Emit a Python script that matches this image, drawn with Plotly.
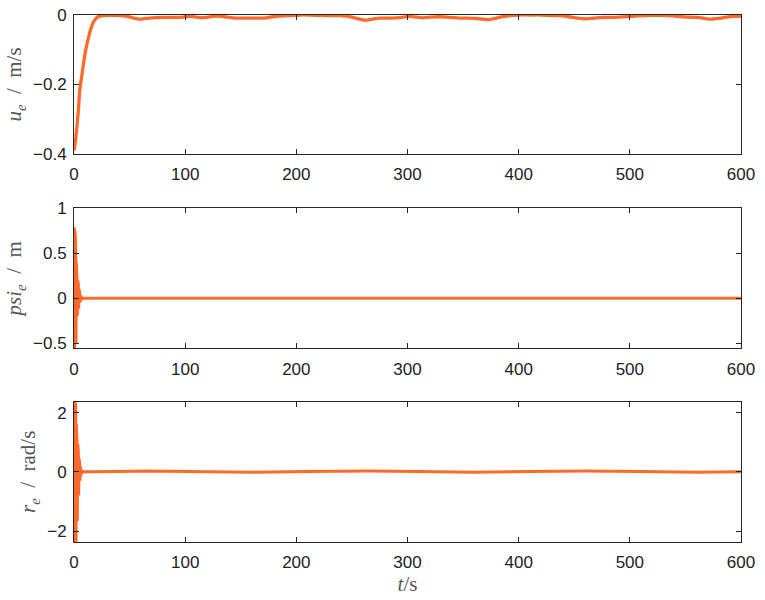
import plotly.graph_objects as go

# ---- data ----
t_u = [0, 1, 2.4, 4, 5.4, 7, 8.3, 10, 11.4, 13, 14.4, 16, 17.4, 19, 20.4, 22, 25, 30, 35, 41,
       48, 54, 59, 64, 70, 80, 90, 98, 104, 110, 115, 121, 128, 135, 143, 155, 165, 173, 179,
       185, 193, 203, 212, 221, 230, 239, 250, 256, 262, 268, 275, 285, 295, 302, 308, 314,
       321, 329, 338, 347, 355, 362, 368, 374, 380, 386, 392, 401, 410, 420, 437, 445, 453,
       461, 468, 476, 485, 491, 505, 518, 530, 540, 551, 560, 566, 572, 579, 587, 594, 600]
u_e = [-0.39, -0.37, -0.33, -0.27, -0.21, -0.175, -0.145, -0.11, -0.087, -0.066, -0.047, -0.032,
       -0.021, -0.013, -0.008, -0.004, -0.002, -0.001, -0.001, -0.001,
       -0.004, -0.009, -0.012, -0.010, -0.008, -0.007, -0.007, -0.006, -0.004, -0.006, -0.008,
       -0.006, -0.003, -0.005, -0.008, -0.009, -0.009, -0.008, -0.005,
       -0.003, -0.002, 0.0, 0.0, -0.001, -0.002, -0.002, -0.006, -0.011, -0.015, -0.012, -0.009,
       -0.009, -0.007, -0.004, -0.006, -0.008, -0.006, -0.005, -0.007, -0.009, -0.009, -0.010,
       -0.012, -0.013, -0.009, -0.005, -0.002, 0.0, 0.0, 0.0, -0.002, -0.005, -0.009,
       -0.011, -0.009, -0.007, -0.007, -0.006, -0.003, -0.001, -0.001, -0.003, -0.006, -0.007,
       -0.009, -0.012, -0.010, -0.006, -0.004, -0.004]

t_psi = [0, 0.3, 0.6, 0.9, 1.2, 1.5, 1.8, 2.1, 2.4, 2.7, 3.0, 3.3, 3.6, 3.9, 4.2, 4.5, 4.8,
         5.1, 5.4, 5.7, 6.0, 6.5, 7, 8, 10, 600]
psi_e = [0, 0.79, -0.57, 0.75, -0.56, 0.6, -0.5, 0.4, -0.4, 0.22, -0.2, 0.2, -0.17, 0.15,
         -0.12, 0.1, -0.08, 0.06, -0.05, 0.04, -0.03, 0.02, -0.01, 0, 0, 0]

t_r = [0, 0.3, 0.6, 0.9, 1.2, 1.5, 1.8, 2.1, 2.4, 2.7, 3.0, 3.3, 3.6, 3.9, 4.2, 4.5, 4.8,
       5.1, 5.4, 5.7, 6.0, 6.5, 7, 8, 10, 40, 65, 110, 160, 210, 265, 310, 360, 410, 460, 510,
       560, 600]
r_e = [0, 2.4, -2.4, 2.4, -2.4, 2.2, -2.4, 1.6, -1.7, 1.0, -1.66, 0.95, -1.2, 0.7, -0.8,
       0.45, -0.5, 0.3, -0.3, 0.2, -0.15, 0.08, -0.05, 0, 0, 0.01, 0.03, 0.01, -0.01, 0.01,
       0.03, 0.01, -0.01, 0.01, 0.03, 0.01, -0.01, 0.0]

x_ticks = [0, 100, 200, 300, 400, 500, 600]

# ---- styling ----
LINE = "#FF6A2A"
AX = "#262626"
TICKFONT = dict(family="Liberation Sans, Arial, sans-serif", size=17, color="#222222")
LABFONT = dict(family="Liberation Serif, Times New Roman, serif", size=21, color="#555555")

fig = go.Figure()
fig.add_trace(go.Scatter(x=t_u, y=u_e, mode="lines", line=dict(color=LINE, width=3.3, shape="spline"),
                         xaxis="x", yaxis="y", showlegend=False))
fig.add_trace(go.Scatter(x=t_psi, y=psi_e, mode="lines", line=dict(color=LINE, width=3),
                         xaxis="x2", yaxis="y2", showlegend=False))
fig.add_trace(go.Scatter(x=t_r, y=r_e, mode="lines", line=dict(color=LINE, width=3),
                         xaxis="x3", yaxis="y3", showlegend=False))

def xax(anchor, title=None):
    d = dict(range=[0, 600], tickvals=x_ticks, ticks="inside", ticklen=5, tickcolor=AX,
             showline=True, linecolor=AX, linewidth=1, mirror="ticks", showgrid=False,
             zeroline=False, tickfont=TICKFONT, anchor=anchor, domain=[0, 1],
             ticklabelstandoff=5, automargin=False)
    if title:
        d["title"] = dict(text=title, font=LABFONT, standoff=1)
    return d

def yax(anchor, rng, tv, dom, title):
    return dict(range=rng, tickvals=tv, ticks="inside", ticklen=5, tickcolor=AX,
                showline=True, linecolor=AX, linewidth=1, mirror="ticks", showgrid=False,
                zeroline=False, tickfont=TICKFONT, anchor=anchor, domain=dom,
                ticklabelstandoff=3, automargin=False,
                title=dict(text=title, font=LABFONT, standoff=5))

fig.update_layout(
    width=765, height=600,
    margin=dict(l=74, r=24, t=15, b=58),
    paper_bgcolor="white", plot_bgcolor="white",
    xaxis=xax("y"),
    yaxis=yax("x", [-0.4, 0], [-0.4, -0.2, 0], [0.7362, 1.0],
              "<i>u</i><sub><i>e</i></sub> <span> </span>/<span> </span> m/s"),
    xaxis2=xax("y2"),
    yaxis2=yax("x2", [-0.557, 1], [-0.5, 0, 0.5, 1], [0.3676, 0.6332],
               "<i>psi</i><sub><i>e</i></sub> <span> </span>/<span> </span> m"),
    xaxis3=xax("y3", "<i>t</i>/s"),
    yaxis3=yax("x3", [-2.37, 2.37], [-2, 0, 2], [0, 0.2662],
               "<i>r</i><sub><i>e</i></sub> <span> </span>/<span> </span> rad/s"),
)

fig.write_html("out.html")
